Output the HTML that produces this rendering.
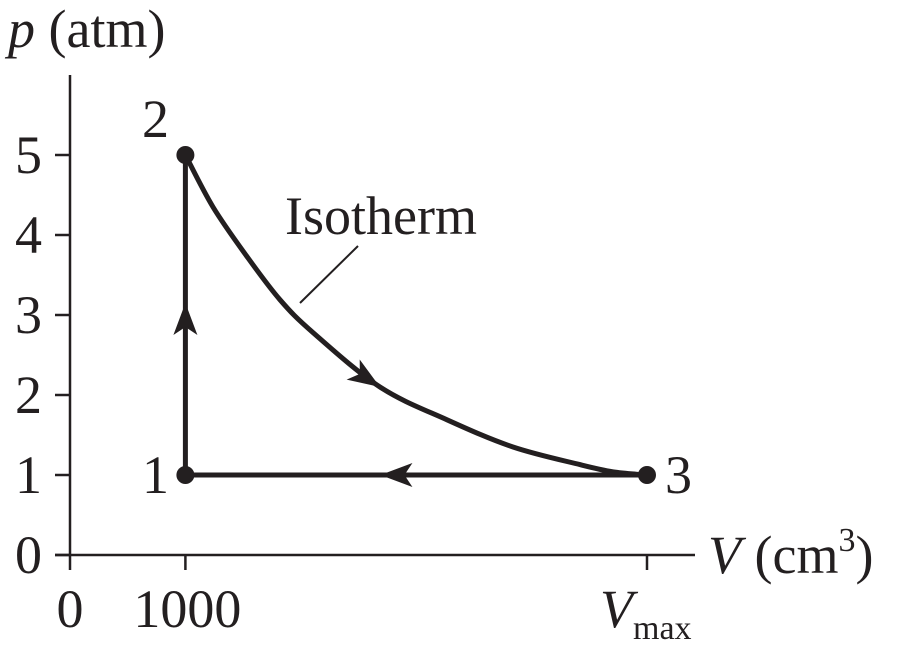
<!DOCTYPE html>
<html><head><meta charset="utf-8"><style>
html,body{margin:0;padding:0;background:#fff}
svg{display:block}
text{font-family:"Liberation Serif",serif;fill:#231f20}
</style></head><body>
<svg id="chart" width="898" height="651" viewBox="0 0 898 651" xmlns="http://www.w3.org/2000/svg">
<g id="axes"></g>
<g id="marks"></g>
<g id="labels"></g>
</svg>
<script>
const yTicks = [0,1,2,3,4,5];
const xTickVals = [0,1000,5000];
const xTickLabels = ["0","1000",""];
const stateV = [1000,1000,5000];
const stateP = [1,5,1];
const stateNames = ["1","2","3"];
const curveV = [1000,1239,1534,1820,2106,2686,3267,3839,4419,4705,5000];
const curveP = [5,4.35,3.73,3.19,2.78,2.10,1.69,1.35,1.13,1.04,1.0];

const NS="http://www.w3.org/2000/svg";
const X0=70, XS=0.1154, Y0=555, YS=80;
function sx(v){return X0+v*XS;}
function sy(p){return Y0-p*YS;}
function mk(tag,attrs,parent,txt){const e=document.createElementNS(NS,tag);for(const k in attrs)e.setAttribute(k,attrs[k]);if(txt!==undefined)e.textContent=txt;parent.appendChild(e);return e;}
const axes=document.getElementById('axes'),marks=document.getElementById('marks'),labels=document.getElementById('labels');
const col="#231f20";
const FS=54;

let a=mk('line',{x1:X0,y1:75,x2:X0,y2:Y0,stroke:col,'stroke-width':2.5},axes);


a=mk('line',{x1:55,y1:Y0,x2:695,y2:Y0,stroke:col,'stroke-width':2.5},axes);


yTicks.forEach(t=>{
  const l=mk('line',{x1:55,y1:sy(t),x2:X0,y2:sy(t),stroke:col,'stroke-width':2.5},axes);
  
  
  const tx=mk('text',{x:42,y:sy(t)+18,'font-size':FS,'text-anchor':'end'},axes,String(t));
  
  
});
xTickVals.forEach((v,i)=>{
  const l=mk('line',{x1:sx(v),y1:Y0,x2:sx(v),y2:570,stroke:col,'stroke-width':2.5},axes);
  
  
  if(xTickLabels[i]){
    const tx=mk('text',{x:sx(v)+(i==1?2:0),y:627,'font-size':FS,'text-anchor':'middle'},axes,xTickLabels[i]);
    
    
  }
});
let t=mk('text',{x:600,y:627,'font-size':FS,'font-style':'italic'},labels,'V');


mk('tspan',{'font-size':34,'font-style':'normal',dx:0,dy:12},t,'max');

t=mk('text',{x:8,y:47,'font-size':FS},labels);


mk('tspan',{'font-style':'italic'},t,'p');
mk('tspan',{},t,' (atm)');
t=mk('text',{x:708,y:573,'font-size':FS},labels);


mk('tspan',{'font-style':'italic'},t,'V');
mk('tspan',{},t,' (cm');
mk('tspan',{'font-size':34,dy:-22},t,'3');
mk('tspan',{dy:22},t,')');

let p=mk('line',{x1:sx(stateV[0]),y1:sy(stateP[0]),x2:sx(stateV[1]),y2:sy(stateP[1]),stroke:col,'stroke-width':5},marks);


p=mk('line',{x1:sx(stateV[2]),y1:sy(stateP[2]),x2:sx(stateV[0]),y2:sy(stateP[0]),stroke:col,'stroke-width':5},marks);


const pts=curveV.map((v,i)=>[sx(v),sy(curveP[i])]);
let d='M'+pts[0][0]+','+pts[0][1];
for(let i=0;i<pts.length-1;i++){
  const p0=pts[Math.max(0,i-1)],p1=pts[i],p2=pts[i+1],p3=pts[Math.min(pts.length-1,i+2)];
  d+=' C'+(p1[0]+(p2[0]-p0[0])/6)+','+(p1[1]+(p2[1]-p0[1])/6)+' '+(p2[0]-(p3[0]-p1[0])/6)+','+(p2[1]-(p3[1]-p1[1])/6)+' '+p2[0]+','+p2[1];
}
p=mk('path',{d:d,fill:'none',stroke:col,'stroke-width':5},marks);



function arrow(x,y,ang,name){
  const g=mk('path',{d:'M0,0 L-32,-12 L-24,0 L-32,12 Z',fill:col,transform:`translate(${x},${y}) rotate(${ang})`},marks);
  
  
}
arrow(sx(1000),sy(3.15),-90,'arrow-up');
arrow(sx(2690),sy(1),180,'arrow-left');
const ai=5, dx=pts[ai+1][0]-pts[ai-1][0], dy=pts[ai+1][1]-pts[ai-1][1];
arrow(pts[ai][0],pts[ai][1],Math.atan2(dy,dx)*180/Math.PI,'arrow-isotherm');

stateV.forEach((v,i)=>{
  const c=mk('circle',{cx:sx(v),cy:sy(stateP[i]),r:9,fill:col},marks);
  
  
});
const nameX=[142,142,665], nameY=[493,137,493];
stateNames.forEach((n,i)=>{
  const tx=mk('text',{x:nameX[i],y:nameY[i],'font-size':FS},labels,n);
  
  
});
t=mk('text',{x:285,y:234,'font-size':FS},labels,'Isotherm');


p=mk('line',{x1:358,y1:246,x2:300,y2:303,stroke:col,'stroke-width':2},labels);


</script>
</body></html>
